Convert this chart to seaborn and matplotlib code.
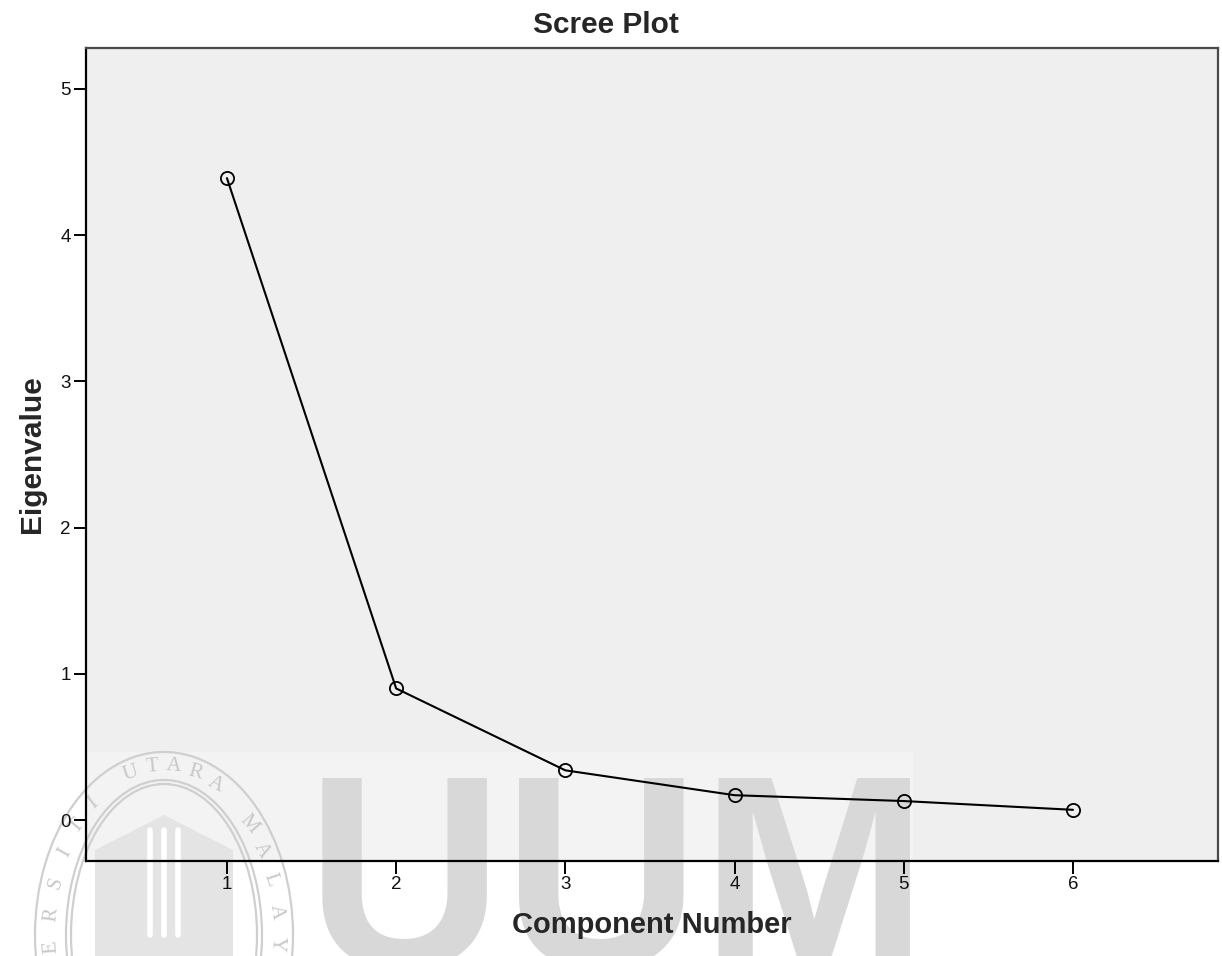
import matplotlib
matplotlib.use("Agg")
import matplotlib.pyplot as plt
import seaborn as sns
import pandas as pd
import numpy as np
from matplotlib.patches import Ellipse, Rectangle, Polygon

components = [1, 2, 3, 4, 5, 6]
eigenvalues = [4.39, 0.90, 0.34, 0.17, 0.13, 0.07]
y_ticks = [0, 1, 2, 3, 4, 5]

sns.set_theme(style="white")
plt.rcParams["font.family"] = ["Liberation Sans", "DejaVu Sans"]

df = pd.DataFrame({"Component Number": components, "Eigenvalue": eigenvalues})

W, H = 1222, 956
fig = plt.figure(figsize=(W / 100, H / 100), dpi=100)
ax_box = [86 / W, 1 - 861 / H, (1218 - 86) / W, (861 - 48) / H]
ax = fig.add_axes(ax_box)
ax.set_facecolor("none")


def px(x, y):
    return (x / W, 1 - y / H)


# plot-area fill sits behind the watermark, the data sits in front of it
fig.patches.append(Rectangle((ax_box[0], ax_box[1]), ax_box[2], ax_box[3],
                             transform=fig.transFigure, facecolor="#efefef",
                             edgecolor="none", zorder=-3))
fig.patches.append(Rectangle((0, 0), 913 / W, (H - 752) / H,
                             transform=fig.transFigure, facecolor="white",
                             alpha=0.25, edgecolor="none", zorder=-2))
fig.text(320 / W - 0.012, 1 - 768 / H, "UUM", fontsize=197, fontweight="bold",
         color="#d8d8d8", ha="left", va="top", zorder=-1)

# university seal
cx, cy = 164, 935
for w, h in [(258, 366), (196, 310), (186, 302)]:
    fig.patches.append(Ellipse(px(cx, cy), w / W, h / H,
                               transform=fig.transFigure, facecolor="none",
                               edgecolor="#cfcfcf", lw=1.6, zorder=-1))
fig.patches.append(Polygon([px(95, 850), px(164, 815), px(233, 850),
                            px(233, 956), px(95, 956)], closed=True,
                           transform=fig.transFigure, facecolor="#e4e4e4",
                           edgecolor="none", zorder=-1))
for x0 in (150, 164, 178):
    fig.lines.append(plt.Line2D([x0 / W, x0 / W], [1 - 830 / H, 1 - 935 / H],
                                transform=fig.transFigure, color="white",
                                lw=4, zorder=-0.9))
seal_text = "UNIVERSITI UTARA MALAYSIA"
angles = np.linspace(228, -36, len(seal_text))
for ch, a in zip(seal_text, angles):
    t = np.deg2rad(a)
    x = cx + 113 * np.cos(t)
    y = cy - 169 * np.sin(t)
    fig.text(x / W, 1 - y / H, ch, fontsize=15, family="Liberation Serif",
             color="#c8c8c8", rotation=a - 90, ha="center", va="center",
             zorder=-1)

sns.lineplot(data=df, x="Component Number", y="Eigenvalue", ax=ax,
             color="black", linewidth=1.5, marker="o", markersize=9.5,
             markerfacecolor="none", markeredgecolor="black", markeredgewidth=1.3)

ax.set_xlim(0.167, 6.857)
ax.set_ylim(-0.28, 5.28)
ax.set_xticks(components)
ax.set_yticks(y_ticks)
ax.tick_params(axis="both", direction="out", length=9, width=1.4, color="black",
               labelsize=13.5, labelcolor="#111111", pad=2,
               bottom=True, left=True, top=False, right=False)

for side in ("left", "bottom"):
    ax.spines[side].set_color("black")
    ax.spines[side].set_linewidth(1.6)
for side in ("top", "right"):
    ax.spines[side].set_color("#4a4a4a")
    ax.spines[side].set_linewidth(1.6)

ax.set_xlabel("Component Number", fontsize=21, fontweight="bold", labelpad=13)
ax.set_ylabel("Eigenvalue", fontsize=21.5, fontweight="bold", labelpad=10)
fig.text(606 / W, 1 - 25 / H, "Scree Plot", fontsize=21.5, fontweight="bold",
         ha="center", va="center")

fig.savefig("out.png", dpi=100)
